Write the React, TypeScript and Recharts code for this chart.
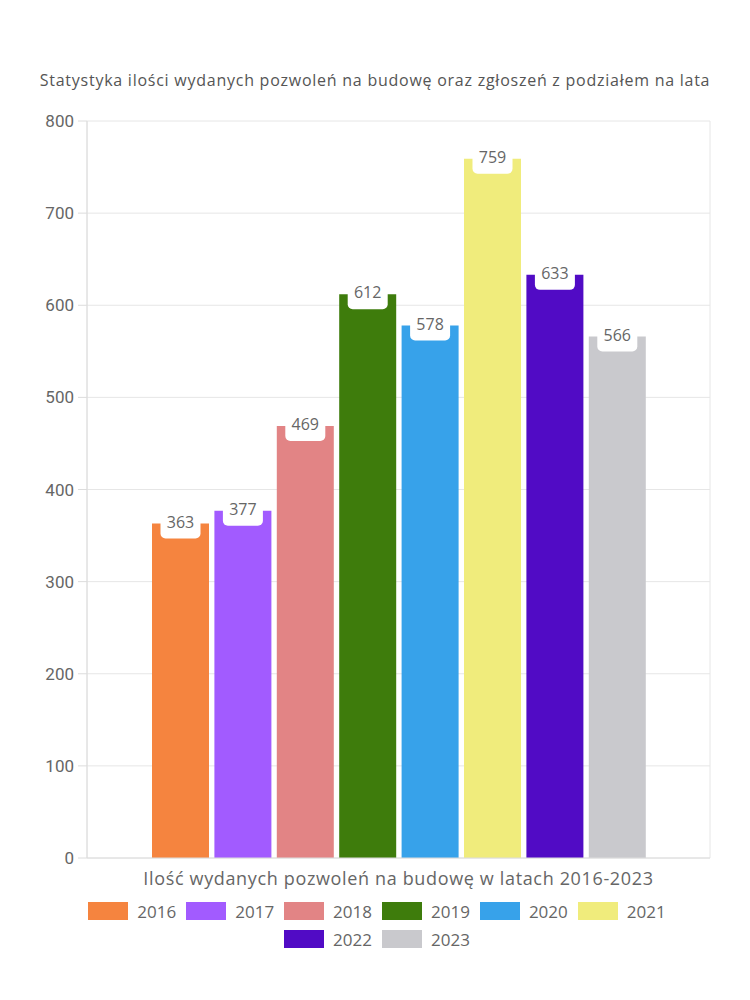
import React from "react";
import { BarChart, Bar, XAxis, YAxis, CartesianGrid } from "recharts";

const years = ["2016", "2017", "2018", "2019", "2020", "2021", "2022", "2023"];
const permits = [363, 377, 469, 612, 578, 759, 633, 566];
const colors = ["#F5843F", "#A25BFF", "#E28485", "#3E7C0C", "#37A2EA", "#F0EC7C", "#510BC5", "#C9C9CD"];
const yTicks = [0, 100, 200, 300, 400, 500, 600, 700, 800];
const category = "Ilość wydanych pozwoleń na budowę w latach 2016-2023";
const title = "Statystyka ilości wydanych pozwoleń na budowę oraz zgłoszeń z podziałem na lata";

const FONT = "'Open Sans', sans-serif";

const row: Record<string, string | number> = { name: category };
years.forEach((y, i) => {
    row["y" + y] = permits[i];
});
const data = [row];

// white rounded tag sitting on top of each bar
const ValueTag = (props: any) => {
    const { x, y, width, value } = props;
    const cx = x + width / 2;
    return (
        <g>
            <rect x={cx - 20} y={y - 9} width={40} height={24} rx={5} fill="#fff" />
            <text x={cx} y={y} textAnchor="middle" dominantBaseline="middle" fontSize={16} fill="#666" fontFamily={FONT}>
                {value}
            </text>
        </g>
    );
};

export default function App() {
    return (
        <div style={{ position: "absolute", left: 0, top: 0, width: 750, height: 1000, background: "#fff" }}>
            <div
                style={{
                    position: "absolute",
                    top: 69,
                    left: 0,
                    width: 750,
                    textAlign: "center",
                    fontFamily: FONT,
                    fontSize: 16,
                    letterSpacing: 0.75,
                    color: "#555",
                }}
            >
                {title}
            </div>

            <BarChart
                width={750}
                height={1000}
                data={data}
                margin={{ top: 121, right: 40, bottom: 102, left: 0 }}
                barSize={57}
                barGap={5.4}
            >
                <CartesianGrid
                    stroke="#e6e6e6"
                    verticalCoordinatesGenerator={({ offset }: any) => [offset.left, offset.left + offset.width]}
                />
                <XAxis
                    dataKey="name"
                    height={40}
                    stroke="#dcdcdc"
                    tickLine={false}
                    tickSize={0}
                    tickMargin={14}
                    tick={{ fontSize: 18, fill: "#666", fontFamily: FONT, letterSpacing: 0.65 }}
                />
                <YAxis
                    width={87}
                    domain={[0, 800]}
                    ticks={yTicks}
                    stroke="#dcdcdc"
                    tickSize={9}
                    tickMargin={4}
                    tick={{ fontSize: 17, fill: "#666", fontFamily: "Roboto, sans-serif" }}
                />
                {years.map((y, i) => (
                    <Bar
                        key={y}
                        dataKey={"y" + y}
                        name={y}
                        fill={colors[i]}
                        isAnimationActive={false}
                        label={<ValueTag />}
                    />
                ))}
            </BarChart>

            {/* legend */}
            <div
                style={{
                    position: "absolute",
                    top: 902,
                    left: 62,
                    width: 640,
                    display: "flex",
                    flexWrap: "wrap",
                    justifyContent: "center",
                    rowGap: 10,
                    fontFamily: FONT,
                    fontSize: 17,
                    color: "#666",
                }}
            >
                {years.map((y, i) => (
                    <div key={y} style={{ display: "flex", alignItems: "center", marginRight: 10, height: 18 }}>
                        <span style={{ display: "inline-block", width: 40, height: 18, background: colors[i], marginRight: 9 }} />
                        <span>{y}</span>
                    </div>
                ))}
            </div>
        </div>
    );
}
